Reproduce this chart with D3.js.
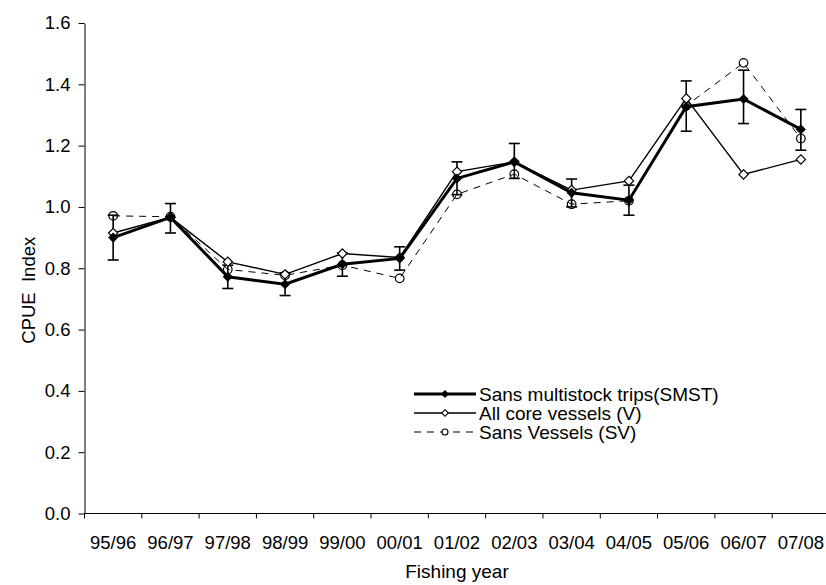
<!DOCTYPE html>
<html>
<head>
<meta charset="utf-8">
<script src="https://cdn.jsdelivr.net/npm/d3@7"></script>
<style>
  body { margin: 0; background: #fff; }
  svg text { font-family: "Liberation Sans", Arial, sans-serif; fill: #000; }
</style>
</head>
<body>
<svg id="chart"></svg>
<script>
// fishing years on the x axis
const years = ["95/96", "96/97", "97/98", "98/99", "99/00", "00/01", "01/02",
               "02/03", "03/04", "04/05", "05/06", "06/07", "07/08"];

// Sans multistock trips (SMST) with its error bars
const smst     = [0.900, 0.966, 0.772, 0.748, 0.813, 0.832, 1.093, 1.147, 1.046, 1.022, 1.327, 1.352, 1.253];
const smstLow  = [0.827, 0.915, 0.734, 0.711, 0.774, 0.794, 1.040, 1.093, 1.000, 0.973, 1.247, 1.272, 1.185];
const smstHigh = [0.973, 1.011, 0.810, 0.785, 0.850, 0.870, 1.147, 1.207, 1.091, 1.071, 1.411, 1.446, 1.318];

// All core vessels (V)
const allCore = [0.915, 0.966, 0.821, 0.780, 0.848, 0.835, 1.115, 1.147, 1.055, 1.085, 1.354, 1.106, 1.155];

// Sans Vessels (SV)
const sansVessels = [0.971, 0.968, 0.796, 0.777, 0.810, 0.767, 1.041, 1.107, 1.009, 1.020, 1.330, 1.470, 1.223];

const yTicks = [0, 0.2, 0.4, 0.6, 0.8, 1.0, 1.2, 1.4, 1.6];

const legendNames = ["Sans multistock trips(SMST)", "All core vessels (V)", "Sans Vessels (SV)"];

var width = 826,
    height = 585;

var svg = d3.select('#chart')
  .attr('width', width)
  .attr('height', height);

var x = d3.scaleBand()
  .domain(years)
  .range([84.5, 829.5]);

var y = d3.scaleLinear()
  .domain([0, 1.6])
  .range([513.5, 23]);

var xc = d => x(d) + x.bandwidth() / 2;

// y axis
var yAxis = svg.append('g')
  .attr('transform', 'translate(' + x.range()[0] + ',0)')
  .call(d3.axisLeft(y).tickValues(yTicks).tickFormat(d3.format('.1f'))
        .tickSize(6).tickSizeOuter(0).tickPadding(8));
yAxis.selectAll('text').style('font-size', '18.5px');

// x axis: labels centred in each band, ticks on the band edges
var xAxis = svg.append('g')
  .attr('transform', 'translate(0,' + y(0) + ')');
xAxis.append('line')
  .attr('x1', x.range()[0]).attr('x2', x.range()[1])
  .attr('stroke', '#000');
xAxis.selectAll('.edge')
  .data([x.range()[0]].concat(years.map(d => x(d) + x.bandwidth())))
  .enter().append('line')
    .attr('class', 'edge')
    .attr('x1', d => d).attr('x2', d => d)
    .attr('y1', 0).attr('y2', 5)
    .attr('stroke', '#000');
xAxis.selectAll('.lab')
  .data(years)
  .enter().append('text')
    .attr('class', 'lab')
    .attr('x', xc)
    .attr('y', 35)
    .attr('text-anchor', 'middle')
    .style('font-size', '18.5px')
    .text(d => d);

// axis titles
svg.append('text')
  .attr('transform', 'translate(35,' + ((y(0) + y(1.6)) / 2 + 22) + ') rotate(-90)')
  .attr('text-anchor', 'middle')
  .style('font-size', '18.5px')
  .style('white-space', 'pre')
  .text('CPUE  Index');

svg.append('text')
  .attr('x', (x.range()[0] + x.range()[1]) / 2)
  .attr('y', 578)
  .attr('text-anchor', 'middle')
  .style('font-size', '19px')
  .text('Fishing year');

var diamond = d3.symbol().type(d3.symbolDiamond2);

function lineFor(values) {
  return d3.line()
    .x((d, i) => xc(years[i]))
    .y(d => y(d))(values);
}

// Sans Vessels (dashed, open circles)
svg.append('path')
  .attr('d', lineFor(sansVessels))
  .attr('fill', 'none')
  .attr('stroke', '#000')
  .attr('stroke-width', 1)
  .attr('stroke-dasharray', '7,6');

// All core vessels (thin line, open diamonds)
svg.append('path')
  .attr('d', lineFor(allCore))
  .attr('fill', 'none')
  .attr('stroke', '#000')
  .attr('stroke-width', 1.4);

// SMST error bars
var eb = svg.append('g').attr('stroke', '#000').attr('stroke-width', 1.6);
years.forEach(function (yr, i) {
  var cx = xc(yr);
  eb.append('line').attr('x1', cx).attr('x2', cx).attr('y1', y(smstLow[i])).attr('y2', y(smstHigh[i]));
  eb.append('line').attr('x1', cx - 5.5).attr('x2', cx + 5.5).attr('y1', y(smstLow[i])).attr('y2', y(smstLow[i]));
  eb.append('line').attr('x1', cx - 5.5).attr('x2', cx + 5.5).attr('y1', y(smstHigh[i])).attr('y2', y(smstHigh[i]));
});

svg.selectAll('.sv')
  .data(sansVessels)
  .enter().append('circle')
    .attr('class', 'sv')
    .attr('cx', (d, i) => xc(years[i]))
    .attr('cy', d => y(d))
    .attr('r', 4.3)
    .attr('fill', 'none')
    .attr('stroke', '#000')
    .attr('stroke-width', 1.2);

svg.selectAll('.v')
  .data(allCore)
  .enter().append('path')
    .attr('class', 'v')
    .attr('d', diamond.size(55))
    .attr('transform', (d, i) => 'translate(' + xc(years[i]) + ',' + y(d) + ')')
    .attr('fill', '#fff')
    .attr('stroke', '#000')
    .attr('stroke-width', 1.2);

// SMST (thick line, filled diamonds)
svg.append('path')
  .attr('d', lineFor(smst))
  .attr('fill', 'none')
  .attr('stroke', '#000')
  .attr('stroke-width', 3);

svg.selectAll('.s')
  .data(smst)
  .enter().append('path')
    .attr('class', 's')
    .attr('d', diamond.size(65))
    .attr('transform', (d, i) => 'translate(' + xc(years[i]) + ',' + y(d) + ')')
    .attr('fill', '#000');

// legend
var lg = svg.append('g').attr('transform', 'translate(414,394)');
var rowH = 19;

lg.append('line').attr('x1', 0).attr('x2', 62).attr('y1', 0).attr('y2', 0)
  .attr('stroke', '#000').attr('stroke-width', 3);
lg.append('path').attr('d', diamond.size(40)).attr('transform', 'translate(31,0)').attr('fill', '#000');

lg.append('line').attr('x1', 0).attr('x2', 62).attr('y1', rowH).attr('y2', rowH)
  .attr('stroke', '#000').attr('stroke-width', 1.4);
lg.append('path').attr('d', diamond.size(28)).attr('transform', 'translate(31,' + rowH + ')')
  .attr('fill', '#fff').attr('stroke', '#000').attr('stroke-width', 1.1);

lg.append('line').attr('x1', 0).attr('x2', 62).attr('y1', rowH * 2).attr('y2', rowH * 2)
  .attr('stroke', '#000').attr('stroke-width', 1).attr('stroke-dasharray', '7,6');
lg.append('circle').attr('cx', 31).attr('cy', rowH * 2).attr('r', 3)
  .attr('fill', '#fff').attr('stroke', '#000').attr('stroke-width', 1.1);

lg.selectAll('.lt')
  .data(legendNames)
  .enter().append('text')
    .attr('class', 'lt')
    .attr('x', 65)
    .attr('y', (d, i) => i * rowH + 7)
    .style('font-size', '19px')
    .text(d => d);
</script>
</body>
</html>
